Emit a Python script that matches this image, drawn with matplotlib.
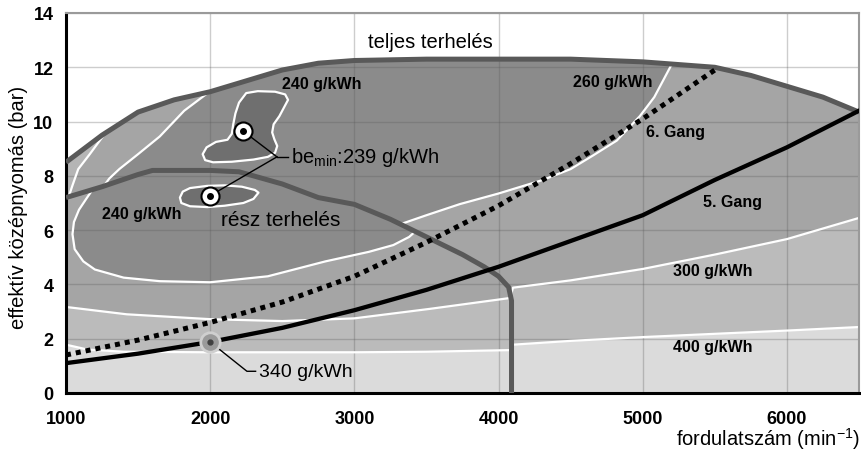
import numpy as np
import matplotlib.pyplot as plt

plt.rcParams['font.family'] = ['Liberation Sans', 'DejaVu Sans']
plt.rcParams['mathtext.fontset'] = 'custom'
plt.rcParams['mathtext.rm'] = 'Liberation Sans'
plt.rcParams['mathtext.it'] = 'Liberation Sans:italic'
plt.rcParams['mathtext.bf'] = 'Liberation Sans:bold'

# --- görbék: fordulatszám (min-1), középnyomás (bar) ---
full_n = [1000, 1250, 1500, 1750, 2000, 2250, 2500, 2750, 3000, 3500, 4000, 4500, 5000, 5250, 5500, 5750, 6000, 6250, 6500]
full_p = [8.5, 9.5, 10.35, 10.8, 11.1, 11.5, 11.9, 12.15, 12.25, 12.3, 12.3, 12.3, 12.2, 12.1, 12.0, 11.7, 11.3, 10.9, 10.35]

part_n = [1000, 1250, 1500, 1600, 2000, 2200, 2500, 2750, 3000, 3250, 3500, 3750, 3900, 4000, 4070, 4090, 4090]
part_p = [7.2, 7.6, 8.05, 8.2, 8.2, 8.15, 7.7, 7.2, 6.95, 6.4, 5.75, 5.1, 4.65, 4.3, 3.9, 3.4, 0]

gang6_n = [1000, 1500, 2000, 2500, 3000, 3500, 4000, 4500, 5000, 5250, 5500]
gang6_p = [1.4, 1.95, 2.6, 3.35, 4.3, 5.55, 6.9, 8.45, 10.1, 11.0, 11.9]

gang5_n = [1000, 1500, 2000, 2500, 3000, 3500, 4000, 4500, 5000, 5500, 6000, 6500]
gang5_p = [1.1, 1.45, 1.88, 2.4, 3.05, 3.8, 4.65, 5.6, 6.55, 7.85, 9.05, 10.4]

# fogyasztási görbék (g/kWh)
c400_n = [1000, 1150, 1400, 2000, 3000, 3500, 4080, 4100, 4500, 5000, 5500, 6000, 6500]
c400_p = [1.78, 1.6, 1.52, 1.5, 1.5, 1.52, 1.58, 1.78, 1.92, 2.06, 2.18, 2.3, 2.43]

c300_n = [1000, 1420, 2000, 2500, 3000, 3524, 4080, 4100, 4500, 5000, 5500, 6000, 6500]
c300_p = [3.17, 2.9, 2.72, 2.65, 2.75, 3.1, 3.5, 3.88, 4.15, 4.57, 5.1, 5.67, 6.45]

c300b_n = [1020, 1045, 1085, 1165, 1255]
c300b_p = [7.25, 7.65, 8.25, 8.8, 9.45]

c260_n = [2000, 1820, 1650, 1500, 1370, 1300, 1262, 1185, 1140, 1090, 1055, 1045, 1060, 1120, 1200,
          1400, 1650, 2000, 2400, 2800, 3100, 3270, 3380, 3420, 3320, 3500, 3732, 4000, 4308,
          4500, 4655, 4820, 4980, 5080, 5140, 5200]
c260_p = [11.12, 10.4, 9.45, 8.8, 8.25, 7.9, 7.62, 7.5, 7.15, 6.75, 6.3, 5.85, 5.3, 4.85, 4.55,
          4.25, 4.12, 4.08, 4.3, 4.85, 5.2, 5.45, 5.75, 5.94, 6.22, 6.55, 6.96, 7.35, 7.85,
          8.25, 8.75, 9.3, 10.2, 10.9, 11.5, 12.1]

c240a_n = [2250, 2330, 2450, 2520, 2540, 2510, 2480, 2440, 2430, 2445, 2465, 2450, 2400, 2300, 2150,
           2020, 1965, 1948, 1975, 2040, 2120, 2150, 2160, 2175, 2200]
c240a_p = [11.05, 11.12, 11.1, 11.0, 10.8, 10.5, 10.2, 9.9, 9.6, 9.35, 9.1, 8.85, 8.7, 8.6, 8.52,
           8.5, 8.58, 8.8, 9.05, 9.25, 9.33, 9.55, 9.9, 10.3, 10.7]

c240b_n = [1790, 1810, 1860, 1978, 2100, 2220, 2310, 2335, 2300, 2230, 2100, 1980, 1860, 1800]
c240b_p = [7.2, 7.42, 7.55, 7.63, 7.65, 7.6, 7.48, 7.38, 7.15, 7.0, 6.9, 6.85, 6.88, 7.0]

bemin_n = [2228, 2000]
bemin_p = [9.65, 7.27]
bemin_knee = (2463, 8.7)
p340 = (2000, 1.88)
p340_knee = (2255, 0.8)

xticks = [1000, 2000, 3000, 4000, 5000, 6000]
yticks = [0, 2, 4, 6, 8, 10, 12, 14]

fig = plt.figure(figsize=(8.62, 4.56), dpi=100)
ax = fig.add_axes([66 / 862, 1 - 394 / 456, 793 / 862, 380 / 456])

# sávok
ax.fill_between(full_n, 0, full_p, color='#a5a5a5', lw=0, zorder=1)
ax.fill_between(c300_n, 0, c300_p, color='#bbbbbb', lw=0, zorder=1)
ax.fill_between(c400_n, 0, c400_p, color='#dbdbdb', lw=0, zorder=1)

# bal felső világos folt
top_n = [n for n in full_n if n <= c300b_n[-1]][::-1]
top_p = [p for n, p in zip(full_n, full_p) if n <= c300b_n[-1]][::-1]
ax.fill([part_n[0]] + c300b_n + top_n, [part_p[0]] + c300b_p + top_p, color='#b5b5b5', lw=0, zorder=1)

# 260 g/kWh terület
inner = [(n, p) for n, p in zip(full_n, full_p) if c260_n[0] < n < c260_n[-1]][::-1]
ax.fill(c260_n + [n for n, _ in inner], c260_p + [p for _, p in inner], color='#8b8b8b', lw=0, zorder=1)

# 240 g/kWh szigetek
for xs, ys in [(c240a_n, c240a_p), (c240b_n, c240b_p)]:
    ax.fill(xs, ys, facecolor='#6f6f6f', edgecolor='white', lw=1.6, joinstyle='round', zorder=2)

# fehér kontúrok
for xs, ys in [(c400_n, c400_p), (c300_n, c300_p), (c300b_n, c300b_p), (c260_n, c260_p)]:
    ax.plot(xs, ys, color='white', lw=1.6, zorder=2)

ax.set_axisbelow('line')
ax.grid(True, color='#5a5a5a', alpha=0.3, lw=1)

ax.plot(full_n, full_p, color='#595959', lw=3.6, zorder=3, solid_capstyle='butt')
ax.plot(part_n, part_p, color='#595959', lw=3.6, zorder=3, solid_capstyle='butt')
ax.plot(gang5_n, gang5_p, color='black', lw=3.1, zorder=4)
ax.plot(gang6_n, gang6_p, color='black', lw=3.6, linestyle=(0, (1, 1)), dash_capstyle='butt', zorder=4)

# be_min jelölések
for n, p in zip(bemin_n, bemin_p):
    ax.plot([n, bemin_knee[0]], [p, bemin_knee[1]], color='black', lw=1, zorder=5)
ax.plot([bemin_knee[0], bemin_knee[0] + 80], [bemin_knee[1]] * 2, color='black', lw=1, zorder=5)
ax.plot(bemin_n, bemin_p, 'o', ms=13, mfc='white', mec='black', mew=1.5, zorder=6)
ax.plot(bemin_n, bemin_p, 'o', ms=4, color='black', zorder=7)
ax.text(bemin_knee[0] + 95, bemin_knee[1], r'be$_{\mathrm{min}}$:239 g/kWh', fontsize=14.5, va='center', ha='left', zorder=8)

ax.plot([p340[0], p340_knee[0], p340_knee[0] + 60], [p340[1], p340_knee[1], p340_knee[1]], color='black', lw=1, zorder=5)
ax.plot(*p340, 'o', ms=14, mfc='#9a9a9a', mec='#cfcfcf', mew=2, zorder=6)
ax.plot(*p340, 'o', ms=3.5, color='#404040', zorder=7)
ax.text(p340_knee[0] + 85, p340_knee[1], '340 g/kWh', fontsize=14, va='center', ha='left', zorder=8)

# feliratok
ax.text(3524, 12.95, 'teljes terhelés', fontsize=14.5, ha='center', va='center')
ax.text(2490, 6.4, 'rész terhelés', fontsize=15, ha='center', va='center')
for s, n, p in [('240 g/kWh', 2775, 11.39), ('240 g/kWh', 1527, 6.63), ('260 g/kWh', 4793, 11.46),
                ('6. Gang', 5230, 9.62), ('5. Gang', 5626, 7.07), ('300 g/kWh', 5487, 4.5),
                ('400 g/kWh', 5487, 1.73)]:
    ax.text(n, p, s, fontsize=11.5, fontweight='bold', ha='center', va='center', zorder=8)

ax.set_xlim(1000, 6500)
ax.set_ylim(0, 14)
ax.set_xticks(xticks)
ax.set_yticks(yticks)
ax.tick_params(length=0, labelsize=13)
ax.tick_params(axis='x', pad=12)
ax.tick_params(axis='y', pad=9)
for lab in ax.get_xticklabels() + ax.get_yticklabels():
    lab.set_fontweight('bold')

ax.spines['left'].set_linewidth(2.2)
ax.spines['bottom'].set_linewidth(2.2)
for s in ['top', 'right']:
    ax.spines[s].set_color('#9a9a9a')
    ax.spines[s].set_linewidth(1.5)

fig.text(19 / 862, 1 - 207 / 456, 'effektív középnyomás (bar)', rotation=90, fontsize=14.5, ha='center', va='center')
fig.text(860 / 862, 1 - 452 / 456, 'fordulatszám (min$^{-1}$)', fontsize=14.5, ha='right', va='bottom')

fig.savefig('out.png', dpi=100)
